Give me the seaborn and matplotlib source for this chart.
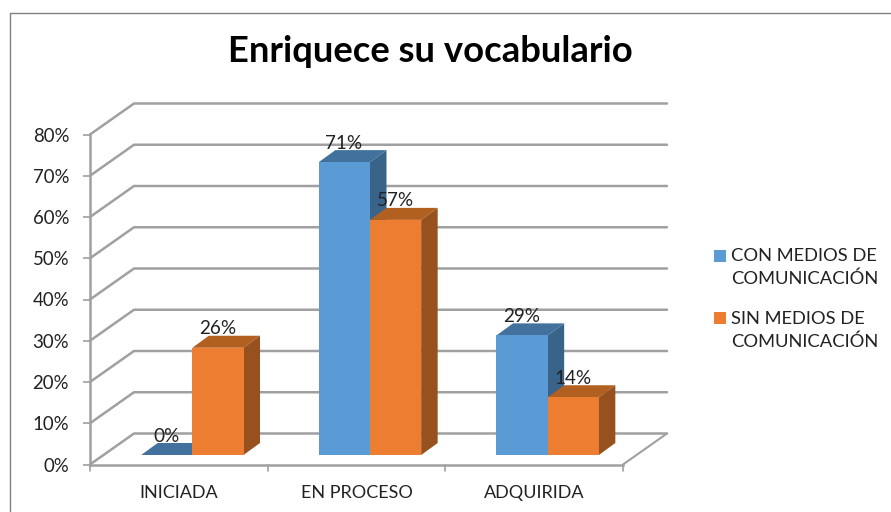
import matplotlib
matplotlib.use("Agg")
import matplotlib.pyplot as plt
import pandas as pd
import seaborn as sns
from matplotlib.lines import Line2D
from matplotlib.patches import Polygon
from matplotlib.transforms import Affine2D

categories = ["INICIADA", "EN PROCESO", "ADQUIRIDA"]
con_medios = [0, 71, 29]
sin_medios = [26, 57, 14]
series_names = ["CON MEDIOS DE\nCOMUNICACIÓN", "SIN MEDIOS DE\nCOMUNICACIÓN"]
y_ticks = [0, 10, 20, 30, 40, 50, 60, 70, 80]
title = "Enriquece su vocabulario"

W, H = 891, 512
FONT = "Lato"
TEXT = "#222222"
GRID = "#A0A0A0"
FRONT = ["#5B9BD5", "#ED7D31"]
TOP = ["#41719C", "#B2601F"]
SIDE = ["#3A638A", "#97511E"]

sns.set_theme(style="white")
plt.rcParams["font.family"] = [FONT, "DejaVu Sans"]

df = pd.DataFrame({
    "cat": categories * 2,
    "val": con_medios + sin_medios,
    "serie": [series_names[0]] * 3 + [series_names[1]] * 3,
})

fig = plt.figure(figsize=(W / 100, H / 100), dpi=100, facecolor="white")
ax = fig.add_axes([90 / W, (H - 464.5) / H, 533 / W, 330 / H])
ax.patch.set_alpha(0)

sns.barplot(data=df, x="cat", y="val", hue="serie", order=categories,
            hue_order=series_names, palette=FRONT, saturation=1,
            width=0.576, gap=0, dodge=True, ax=ax, linewidth=0)
ax.set_xlim(-0.5, 2.5)
ax.set_ylim(0, 80)
ax.set_xlabel("")
ax.set_ylabel("")
ax.set_yticks(y_ticks)
ax.set_yticklabels([f"{v}%" for v in y_ticks], fontsize=13.4, color=TEXT, family=FONT)
ax.tick_params(axis="y", length=5, width=1.2, color=GRID, pad=10, left=True)
ax.tick_params(axis="x", length=6, width=1.2, color=GRID, pad=9, bottom=False, labelsize=13,
               labelcolor=TEXT)
for t in ax.get_xticklabels():
    t.set_family(FONT)
sns.despine(ax=ax, right=True, top=True)
for s in ("left", "bottom"):
    ax.spines[s].set_color(GRID)
    ax.spines[s].set_linewidth(1.8)

# category boundary ticks
for b in (-0.5, 0.5, 1.5, 2.5):
    ax.plot([b, b], [0, -6 / 330 * 80], color=GRID, lw=1.2, clip_on=False, zorder=1)

fig.canvas.draw()
to_px = ax.transData.transform

# pseudo-3D walls
WX, WY = 44, 31
for v in y_ticks:
    x0, y0 = to_px((-0.5, v))
    x1, _ = to_px((2.5, v))
    ax.add_line(Line2D([x0, x0 + WX, x1 + WX], [y0, y0 + WY, y0 + WY], transform=None,
                       color=GRID, lw=1.8, zorder=1, clip_on=False))
x0, y0 = to_px((2.5, 0))
ax.add_line(Line2D([x0, x0 + WX], [y0, y0 + WY], transform=None, color=GRID, lw=1.5,
                   zorder=1, clip_on=False))

# pseudo-3D bars
BX, BY = 13.5, 9.5          # bar position inside the depth of the floor
DX, DY = 16.5, 12           # bar depth
for i, cont in enumerate(ax.containers):
    for bar in cont:
        bx0, bx1 = bar.get_x(), bar.get_x() + bar.get_width()
        top = bar.get_height()
        (xa, yb), (xb, yt) = to_px((bx0, 0)), to_px((bx1, top))
        xa, xb, yb, yt = xa + BX, xb + BX, yb + BY, yt + BY
        bar.set_transform(ax.transData + Affine2D().translate(BX, BY))
        bar.set_clip_on(False)
        bar.set_zorder(2.5 + i)
        ax.add_patch(Polygon([(xa, yt), (xb, yt), (xb + DX, yt + DY), (xa + DX, yt + DY)],
                             transform=None, fc=TOP[i], ec="none", zorder=2 + i, clip_on=False))
        if top > 0:
            ax.add_patch(Polygon([(xb, yb), (xb + DX, yb + DY), (xb + DX, yt + DY), (xb, yt)],
                                 transform=None, fc=SIDE[i], ec="none", zorder=2 + i, clip_on=False))
        ax.annotate(f"{top:.0f}%", xy=((xa + xb) / 2 - BX, to_px((0, top))[1]), xycoords="figure pixels",
                    xytext=(13, 28.5), textcoords="offset pixels", ha="center", va="center",
                    fontsize=13.6, color=TEXT, family=FONT, zorder=6, annotation_clip=False)

# legend
handles, labels = ax.get_legend_handles_labels()
leg = ax.legend(handles, labels, loc="upper left", bbox_to_anchor=(714 / W, (H - 248) / H),
                bbox_transform=fig.transFigure, frameon=False, labelcolor=TEXT,
                handlelength=0.64, handleheight=0.64, handletextpad=0.3, labelspacing=1.27,
                borderpad=0, borderaxespad=0, prop={"family": FONT, "size": 13.2})
for t in leg.get_texts():
    t.set_linespacing(1.5)
for h in leg.legend_handles:
    h.set_y(h.get_y() + 8.5)

# title and outer frame
fig.text(430 / W, (H - 52) / H, title, ha="center", va="center", fontsize=26.2,
         fontweight="bold", color="black", family=FONT)
fig.add_artist(Line2D([9.5 / W, 9.5 / W, 1], [0, (H - 12.5) / H, (H - 12.5) / H],
                      transform=fig.transFigure, color="#808080", lw=1.0))

fig.savefig("out.png", dpi=100, facecolor="white")
